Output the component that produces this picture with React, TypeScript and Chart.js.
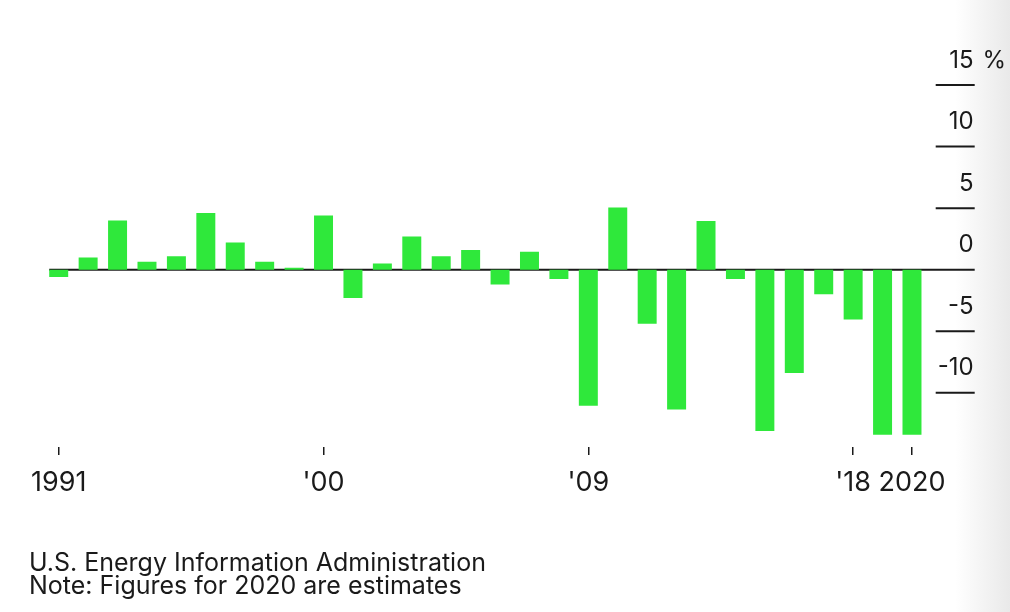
import React, { useEffect, useRef } from "react";
import { Chart, registerables } from "chart.js";

Chart.register(...registerables);

const years: number[] = [
  1991, 1992, 1993, 1994, 1995, 1996, 1997, 1998, 1999, 2000,
  2001, 2002, 2003, 2004, 2005, 2006, 2007, 2008, 2009, 2010,
  2011, 2012, 2013, 2014, 2015, 2016, 2017, 2018, 2019, 2020,
];
const changePct: number[] = [
  -0.6, 1.0, 4.0, 0.65, 1.1, 4.6, 2.2, 0.65, 0.15, 4.4,
  -2.3, 0.5, 2.7, 1.1, 1.6, -1.2, 1.45, -0.75, -11.05, 5.05,
  -4.4, -11.35, 3.95, -0.75, -13.1, -8.4, -2.0, -4.05, -13.4, -13.4,
];
const xTickYears: number[] = [1991, 2000, 2009, 2018, 2020];
const xTickLabels: string[] = ["1991", "'00", "'09", "'18", "2020"];
const yTickValues: number[] = [15, 10, 5, 0, -5, -10];
const yTickLabels: string[] = ["15", "10", "5", "0", "-5", "-10"];

const FONT = "Inter, 'Liberation Sans', Arial, sans-serif";
const BAR = "#2fe83b";
const INK = "#1a1a1a";

const rightAxisPlugin = {
  id: "rightAxis",
  beforeDatasetsDraw(chart: any) {
    const { ctx, chartArea } = chart;
    const y = chart.scales.y;
    const meta = chart.getDatasetMeta(0);
    const first = meta.data[0] as any;
    const startX = first ? first.x - first.width / 2 : chartArea.left;
    const endX = chartArea.right + 48;
    const y0 = y.getPixelForValue(0);
    ctx.save();
    ctx.strokeStyle = INK;
    ctx.lineWidth = 2;
    ctx.beginPath();
    ctx.moveTo(startX, y0);
    ctx.lineTo(endX, y0);
    ctx.stroke();
    ctx.restore();
  },
  afterDatasetsDraw(chart: any) {
    const { ctx, chartArea } = chart;
    const y = chart.scales.y;
    const x1 = chartArea.right + 9;
    const x2 = chartArea.right + 48;
    ctx.save();
    ctx.strokeStyle = INK;
    ctx.lineWidth = 2;
    ctx.fillStyle = INK;
    ctx.font = `24px ${FONT}`;
    ctx.textBaseline = "alphabetic";
    yTickValues.forEach((v, i) => {
      const py = y.getPixelForValue(v);
      if (v !== 0) {
        ctx.beginPath();
        ctx.moveTo(x1, py);
        ctx.lineTo(x2, py);
        ctx.stroke();
      }
      ctx.textAlign = "right";
      ctx.fillText(yTickLabels[i], x2 - 1, py - 17.5);
      if (i === 0) {
        ctx.textAlign = "left";
        ctx.fillText(" %", x2 + 1, py - 17.5);
      }
    });
    ctx.restore();
  },
};

export default function App() {
  const ref = useRef<HTMLCanvasElement | null>(null);

  useEffect(() => {
    if (!ref.current) return;
    const chart = new Chart(ref.current, {
      type: "bar",
      data: {
        labels: years.map(String),
        datasets: [
          {
            data: changePct,
            backgroundColor: BAR,
            borderWidth: 0,
            barPercentage: 0.645,
            categoryPercentage: 1,
          },
        ],
      },
      options: {
        animation: false,
        responsive: false,
        maintainAspectRatio: false,
        layout: { padding: { left: 44, right: 83.3, top: 85, bottom: 0 } },
        plugins: {
          legend: { display: false },
          tooltip: { enabled: false },
          title: { display: false },
        },
        scales: {
          x: {
            type: "category",
            offset: true,
            border: { display: false },
            grid: {
              display: true,
              offset: false,
              drawOnChartArea: false,
              drawTicks: true,
              tickLength: 8,
              lineWidth: 1.5,
              color: (c: any) =>
                xTickYears.includes(years[c.index]) ? INK : "rgba(0,0,0,0)",
            },
            ticks: {
              autoSkip: false,
              maxRotation: 0,
              minRotation: 0,
              padding: 12,
              color: INK,
              font: { family: FONT, size: 27 },
              callback: (_v: any, idx: number) => {
                const k = xTickYears.indexOf(years[idx]);
                return k >= 0 ? xTickLabels[k] : "";
              },
            },
            afterFit: (scale: any) => {
              scale.height = 165;
            },
          },
          y: {
            display: false,
            min: -14.4,
            max: 15,
          },
        },
      },
      plugins: [rightAxisPlugin],
    });
    return () => chart.destroy();
  }, []);

  return (
    <div
      style={{
        position: "fixed",
        left: 0,
        top: 0,
        width: 1010,
        height: 612,
        overflow: "hidden",
        background:
          "linear-gradient(to right, #ffffff 0px, #ffffff 955px, #e9e9e9 1010px)",
      }}
    >
      <canvas
        ref={ref}
        width={1010}
        height={612}
        style={{ position: "absolute", left: 0, top: 0, width: 1010, height: 612 }}
      />
      <div
        style={{
          position: "absolute",
          left: 29,
          top: 551,
          fontFamily: FONT,
          fontSize: 25,
          lineHeight: "23px",
          color: INK,
          whiteSpace: "nowrap",
        }}
      >
        <div>U.S. Energy Information Administration</div>
        <div>Note: Figures for 2020 are estimates</div>
      </div>
    </div>
  );
}
